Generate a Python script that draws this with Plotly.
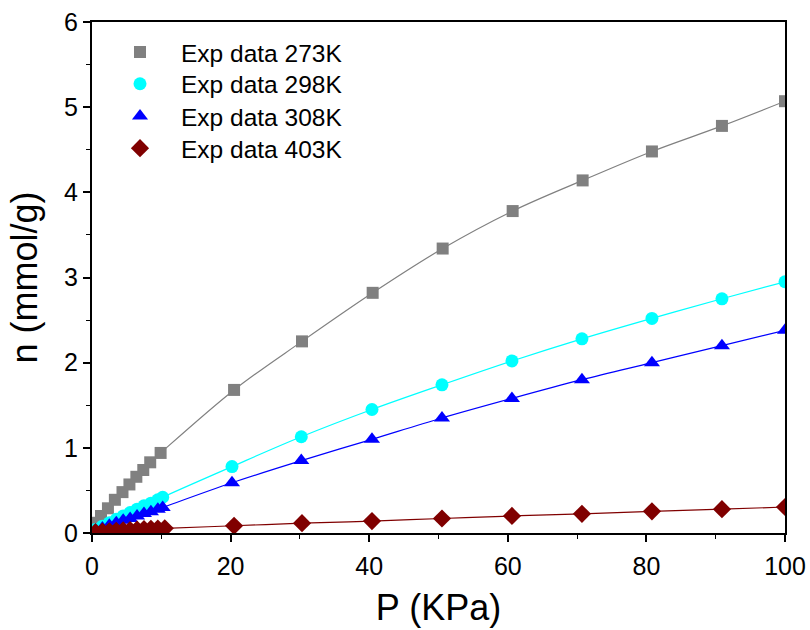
import plotly.graph_objects as go

# ---- data ----
p_273 = [0.4, 1.3, 2.3, 3.3, 4.4, 5.4, 6.4, 7.4, 8.4, 9.9, 20.5, 30.3, 40.5, 50.6, 60.7, 70.8, 80.8, 90.9, 100.0]
n_273 = [0.12, 0.20, 0.29, 0.39, 0.48, 0.57, 0.66, 0.74, 0.83, 0.94, 1.68, 2.25, 2.82, 3.34, 3.78, 4.14, 4.48, 4.78, 5.07]

p_298 = [0.5, 1.5, 2.5, 3.5, 4.5, 5.5, 6.5, 7.5, 8.5, 9.5, 10.2, 20.2, 30.2, 40.4, 50.5, 60.6, 70.7, 80.8, 90.9, 100.0]
n_298 = [0.04, 0.08, 0.12, 0.16, 0.20, 0.24, 0.28, 0.32, 0.35, 0.39, 0.42, 0.78, 1.13, 1.45, 1.74, 2.02, 2.28, 2.52, 2.75, 2.95]

p_308 = [0.5, 1.5, 2.5, 3.5, 4.5, 5.5, 6.5, 7.5, 8.5, 9.5, 10.2, 20.2, 30.2, 40.4, 50.5, 60.6, 70.7, 80.8, 90.9, 100.0]
n_308 = [0.03, 0.06, 0.09, 0.12, 0.15, 0.17, 0.20, 0.23, 0.25, 0.28, 0.30, 0.59, 0.85, 1.10, 1.35, 1.58, 1.80, 2.00, 2.20, 2.38]

p_403 = [0.5, 1.5, 2.5, 3.5, 4.5, 5.5, 6.5, 7.5, 8.5, 9.5, 10.5, 20.5, 30.3, 40.4, 50.5, 60.6, 70.7, 80.8, 90.9, 100.0]
n_403 = [0.01, 0.015, 0.02, 0.025, 0.03, 0.035, 0.04, 0.045, 0.05, 0.052, 0.055, 0.085, 0.115, 0.14, 0.17, 0.20, 0.225, 0.255, 0.28, 0.305]

names = ["Exp data 273K", "Exp data 298K", "Exp data 308K", "Exp data 403K"]
colors = ["#808080", "#00FFFF", "#0000FF", "#800000"]
symbols = ["square", "circle", "triangle-up", "diamond"]
sizes = [12, 13, 14, 14]
series = [(p_273, n_273), (p_298, n_298), (p_308, n_308), (p_403, n_403)]
legend_ids = ["legend", "legend2", "legend3", "legend4"]
legend_y = [0.941, 0.879, 0.816, 0.753]

FONT = "Liberation Sans, Arial"

fig = go.Figure()

# fit lines
for (px, ny), c in zip(series, colors):
    fig.add_trace(go.Scatter(x=[0] + px, y=[0] + ny, mode="lines",
                             line=dict(color=c, width=1.2, shape="spline"),
                             showlegend=False, hoverinfo="skip"))

# markers
for i, ((px, ny), c) in enumerate(zip(series, colors)):
    fig.add_trace(go.Scatter(x=px, y=ny, mode="markers", name=names[i],
                             legend=legend_ids[i],
                             marker=dict(color=c, symbol=symbols[i], size=sizes[i],
                                         line=dict(width=0))))

axis_common = dict(
    showline=True, linecolor="black", linewidth=2, mirror=True,
    ticks="outside", ticklen=7, tickwidth=1.5, tickcolor="black",
    showgrid=False, zeroline=False, automargin=False,
    tickfont=dict(family=FONT, size=25, color="black"),
)

legend_layout = {}
for lid, ly in zip(legend_ids, legend_y):
    legend_layout[lid] = dict(x=0.0101, y=ly, xanchor="left", yanchor="middle",
                              font=dict(size=24.5, family=FONT, color="black"),
                              bgcolor="rgba(0,0,0,0)", itemwidth=72)

fig.update_layout(
    width=810, height=630,
    margin=dict(l=92, r=25, t=22, b=97),
    plot_bgcolor="white", paper_bgcolor="white",
    font=dict(family=FONT, color="black"),
    xaxis=dict(range=[0, 100], dtick=20, tick0=0, ticklabelstandoff=3,
               minor=dict(dtick=10, ticks="outside", ticklen=4, tickwidth=1.2, tickcolor="black"),
               title=dict(text="P (KPa)", font=dict(size=36), standoff=16),
               **axis_common),
    yaxis=dict(range=[0, 6], dtick=1, tick0=0,
               minor=dict(dtick=0.5, ticks="outside", ticklen=4, tickwidth=1.2, tickcolor="black"),
               title=dict(text="n (mmol/g)", font=dict(size=36), standoff=15),
               **axis_common),
    **legend_layout,
)

fig.write_html("out.html")
